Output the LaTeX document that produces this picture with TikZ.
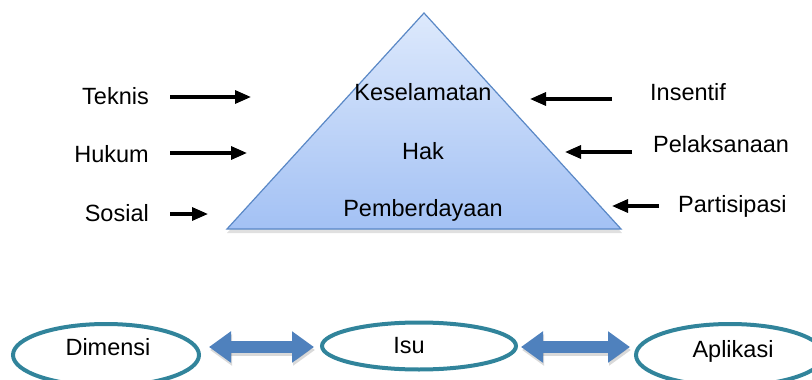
\documentclass[tikz,border=0pt]{standalone}
\usepackage{fontspec}
\setmainfont{Liberation Sans}
\usetikzlibrary{arrows.meta,shadows,shapes.geometric}
\definecolor{triedge}{HTML}{5A88C6}
\definecolor{tritop}{HTML}{DDE9FC}
\definecolor{tribot}{HTML}{A3C1F4}
\definecolor{ellteal}{HTML}{31849B}
\definecolor{dblue}{HTML}{4F81BD}
\begin{document}
\begin{tikzpicture}[x=1pt,y=-1pt,
  lbl/.style={inner sep=0pt,font=\fontsize{23.5}{27}\selectfont},
  blkarrow/.style={line width=3.2pt,-{Triangle[width=13pt,length=16pt]}},
  ovalnode/.style={draw=ellteal,line width=4pt,ellipse,inner sep=0pt},
  fatarrow/.style={line width=12pt,draw=dblue,{Triangle[width=30pt,length=22pt]}-{Triangle[width=30pt,length=22pt]}}
]
\useasboundingbox (0,0) rectangle (812,380);
% triangle
\fill[black,opacity=0.12] (424,16) -- (622,233) -- (227,233) -- cycle;
\draw[triedge,line width=1.2pt,top color=tritop,bottom color=tribot] (424,13) -- (621,229) -- (227,229) -- cycle;
\node[lbl,anchor=base] (kes) at (423,100) {Keselamatan};
\node[lbl,anchor=base] (hak) at (423,159) {Hak};
\node[lbl,anchor=base] (pem) at (423,216) {Pemberdayaan};
% left labels
\node[lbl,anchor=base east] (tek) at (149,104) {Teknis};
\node[lbl,anchor=base east] (huk) at (149,162) {Hukum};
\node[lbl,anchor=base east] (sos) at (149,221) {Sosial};
\coordinate (tekA) at (170,97);  \coordinate (tekB) at (251,97);
\coordinate (hukA) at (170,153); \coordinate (hukB) at (247,153);
\coordinate (sosA) at (170,214); \coordinate (sosB) at (208,214);
\draw[blkarrow] (tekA) -- (tekB);
\draw[blkarrow] (hukA) -- (hukB);
\draw[blkarrow] (sosA) -- (sosB);
% right labels
\node[lbl,anchor=base west] (ins) at (650,100) {Insentif};
\node[lbl,anchor=base west] (pel) at (653,152) {Pelaksanaan};
\node[lbl,anchor=base west] (par) at (678,212) {Partisipasi};
\coordinate (insA) at (612,99);  \coordinate (insB) at (530,99);
\coordinate (pelA) at (632,152); \coordinate (pelB) at (565,152);
\coordinate (parA) at (659,206); \coordinate (parB) at (612,206);
\draw[blkarrow] (insA) -- (insB);
\draw[blkarrow] (pelA) -- (pelB);
\draw[blkarrow] (parA) -- (parB);
% bottom ellipses
\node[ovalnode,minimum width=186pt,minimum height=62pt] (dim) at (106,355) {};
\node[ovalnode,minimum width=194pt,minimum height=47pt] (isu) at (419,346) {};
\node[ovalnode,minimum width=188pt,minimum height=62pt] (apl) at (730,355) {};
\node[lbl,anchor=base] (dimt) at (108,355) {Dimensi};
\node[lbl,anchor=base] (isut) at (409,353) {Isu};
\node[lbl,anchor=base] (aplt) at (733,357) {Aplikasi};
% double arrows
\coordinate (d1) at (209,347); \coordinate (d2) at (314,347);
\coordinate (d3) at (521,347); \coordinate (d4) at (630,347);
\begin{scope}[transform canvas={xshift=1pt,yshift=-3pt}]
\draw[fatarrow,draw=black,opacity=0.15] (d1) -- (d2);
\draw[fatarrow,draw=black,opacity=0.15] (d3) -- (d4);
\end{scope}
\draw[fatarrow] (d1) -- (d2);
\draw[fatarrow] (d3) -- (d4);
\end{tikzpicture}
\end{document}
